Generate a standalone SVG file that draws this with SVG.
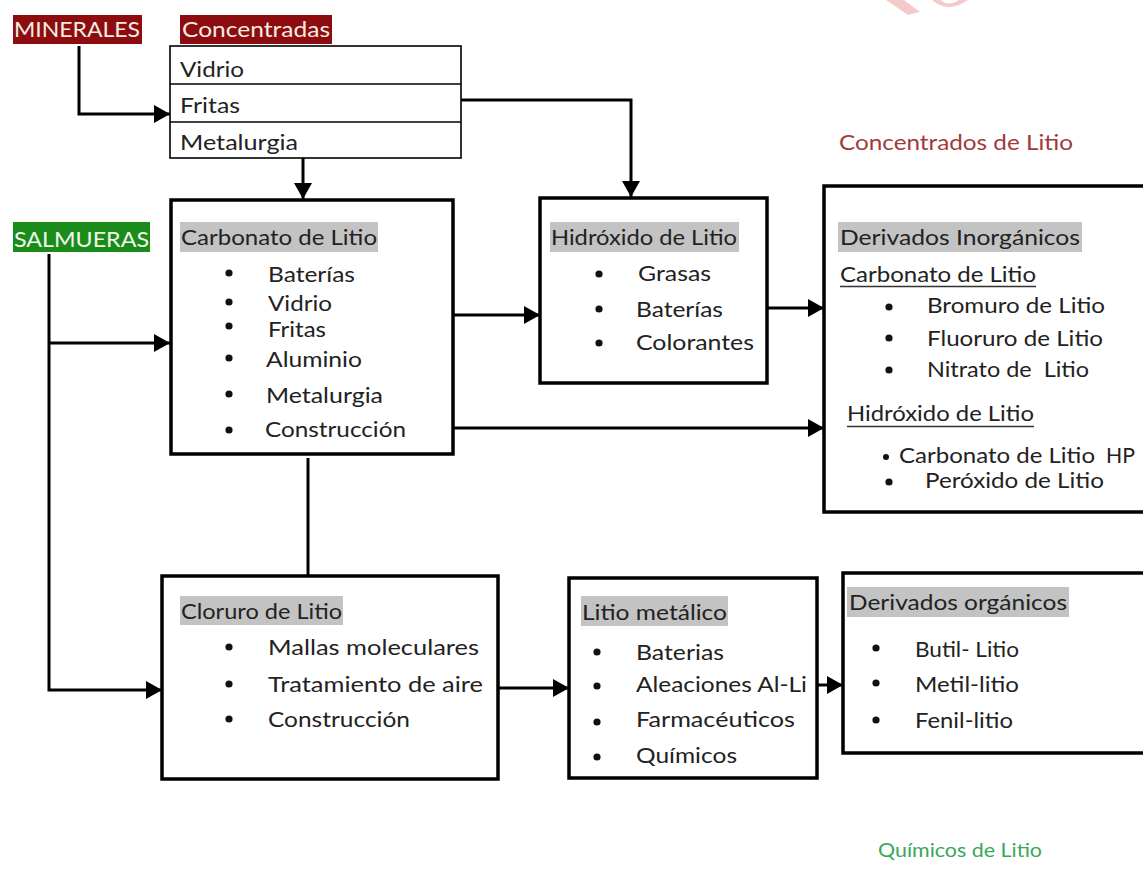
<svg xmlns="http://www.w3.org/2000/svg" width="1143" height="877" viewBox="0 0 1143 877">
<defs>
<marker id="arr" markerUnits="userSpaceOnUse" markerWidth="16" markerHeight="18" refX="16" refY="9" orient="auto"><path d="M0,0 L16,9 L0,18 z" fill="#000"/></marker>
<style>
.t{font-family:Lato,"Open Sans","Liberation Sans",sans-serif;font-size:21px;fill:#222}
.lbl{font-family:Lato,"Open Sans","Liberation Sans",sans-serif;font-size:21px;fill:#f5ede0}
.box{fill:#fff;stroke:#000;stroke-width:3.5}
.tbl{fill:#fff;stroke:#000;stroke-width:1.6}
.hdr{fill:#c3c3c3}
.con{fill:none;stroke:#000;stroke-width:3}
.ul{stroke:#333;stroke-width:1.5}
.b{fill:#111}
</style>
</defs>
<rect width="1143" height="877" fill="#fff"/>
<g id="watermark" fill="#f3c9c9">
<polygon points="886,0 904,0 920,12 908,15"/>
<path d="M932,0 Q948,14 968,0 L959,0 Q948,7 941,0 z"/>
</g>
<g id="connectors">
<path class="con" d="M79,46 V114 H170" marker-end="url(#arr)"/>
<path class="con" d="M303,158 V199" marker-end="url(#arr)"/>
<path class="con" d="M461,100 H631 V197" marker-end="url(#arr)"/>
<path class="con" d="M49,254 V690 H162" marker-end="url(#arr)"/>
<path class="con" d="M49,343 H170" marker-end="url(#arr)"/>
<path class="con" d="M453,315 H540" marker-end="url(#arr)"/>
<path class="con" d="M453,428 H824" marker-end="url(#arr)"/>
<path class="con" d="M308,458 V576"/>
<path class="con" d="M767,308 H824" marker-end="url(#arr)"/>
<path class="con" d="M498,688 H569" marker-end="url(#arr)"/>
<path class="con" d="M817,685 H843" marker-end="url(#arr)"/>
</g>
<g id="minerales">
<rect x="13" y="15" width="129" height="29" fill="#8c0c10"/>
<text class="lbl" x="14" y="37" textLength="126" lengthAdjust="spacingAndGlyphs">MINERALES</text>
</g>
<g id="concentradas">
<rect x="180" y="15" width="152" height="29" fill="#8c0c10"/>
<text class="lbl" x="182" y="37" textLength="148" lengthAdjust="spacingAndGlyphs">Concentradas</text>
<rect class="tbl" x="170" y="46" width="291" height="112"/>
<line class="tbl" x1="170" y1="84" x2="461" y2="84"/>
<line class="tbl" x1="170" y1="122" x2="461" y2="122"/>
<text class="t" x="180" y="77" textLength="64" lengthAdjust="spacingAndGlyphs">Vidrio</text>
<text class="t" x="180" y="113" textLength="60" lengthAdjust="spacingAndGlyphs">Fritas</text>
<text class="t" x="180" y="150" textLength="118" lengthAdjust="spacingAndGlyphs">Metalurgia</text>
</g>
<g id="concentrados-litio">
<text class="t" x="839" y="150" textLength="234" lengthAdjust="spacingAndGlyphs" style="fill:#a33a3a">Concentrados de Litio</text>
</g>
<g id="salmueras">
<rect x="13" y="222" width="137" height="30" fill="#198c19"/>
<text class="lbl" x="14" y="247" textLength="135" lengthAdjust="spacingAndGlyphs" style="fill:#f3f7ee">SALMUERAS</text>
</g>
<g id="carbonato">
<rect class="box" x="171" y="200" width="282" height="254"/>
<rect class="hdr" x="180" y="222" width="198" height="30"/>
<text class="t" x="181" y="245" textLength="196" lengthAdjust="spacingAndGlyphs">Carbonato de Litio</text>
<circle class="b" cx="229" cy="273" r="3.6"/><text class="t" x="268" y="282" textLength="87" lengthAdjust="spacingAndGlyphs">Baterías</text>
<circle class="b" cx="229" cy="302" r="3.6"/><text class="t" x="268" y="311" textLength="64" lengthAdjust="spacingAndGlyphs">Vidrio</text>
<circle class="b" cx="229" cy="326" r="3.6"/><text class="t" x="268" y="337" textLength="58" lengthAdjust="spacingAndGlyphs">Fritas</text>
<circle class="b" cx="229" cy="358" r="3.6"/><text class="t" x="266" y="367" textLength="96" lengthAdjust="spacingAndGlyphs">Aluminio</text>
<circle class="b" cx="229" cy="394" r="3.6"/><text class="t" x="266" y="403" textLength="117" lengthAdjust="spacingAndGlyphs">Metalurgia</text>
<circle class="b" cx="229" cy="430" r="3.6"/><text class="t" x="265" y="437" textLength="141" lengthAdjust="spacingAndGlyphs">Construcción</text>
</g>
<g id="hidroxido">
<rect class="box" x="540" y="198" width="227" height="185"/>
<rect class="hdr" x="550" y="222" width="189" height="30"/>
<text class="t" x="551" y="245" textLength="186" lengthAdjust="spacingAndGlyphs">Hidróxido de Litio</text>
<circle class="b" cx="599" cy="274" r="3.6"/><text class="t" x="638" y="281" textLength="73" lengthAdjust="spacingAndGlyphs">Grasas</text>
<circle class="b" cx="599" cy="309" r="3.6"/><text class="t" x="636" y="317" textLength="87" lengthAdjust="spacingAndGlyphs">Baterías</text>
<circle class="b" cx="599" cy="343" r="3.6"/><text class="t" x="636" y="350" textLength="118" lengthAdjust="spacingAndGlyphs">Colorantes</text>
</g>
<g id="inorganicos">
<rect class="box" x="824" y="186" width="340" height="326"/>
<rect class="hdr" x="838" y="222" width="244" height="30"/>
<text class="t" x="840" y="245" textLength="240" lengthAdjust="spacingAndGlyphs">Derivados Inorgánicos</text>
<text class="t" x="840" y="282" textLength="196" lengthAdjust="spacingAndGlyphs">Carbonato de Litio</text>
<line class="ul" x1="840" y1="286.5" x2="1036" y2="286.5"/>
<circle class="b" cx="889" cy="307" r="3.6"/><text class="t" x="927" y="313" textLength="178" lengthAdjust="spacingAndGlyphs">Bromuro de Litio</text>
<circle class="b" cx="889" cy="338" r="3.6"/><text class="t" x="927" y="346" textLength="176" lengthAdjust="spacingAndGlyphs">Fluoruro de Litio</text>
<circle class="b" cx="889" cy="370" r="3.6"/><text class="t" x="927" y="377" textLength="162" lengthAdjust="spacingAndGlyphs" style="white-space:pre">Nitrato de  Litio</text>
<text class="t" x="847" y="421" textLength="187" lengthAdjust="spacingAndGlyphs">Hidróxido de Litio</text>
<line class="ul" x1="847" y1="426.5" x2="1034" y2="426.5"/>
<circle class="b" cx="886" cy="457" r="3"/><text class="t" x="899" y="463" textLength="196" lengthAdjust="spacingAndGlyphs">Carbonato de Litio</text>
<text class="t" x="1106" y="463" textLength="29" lengthAdjust="spacingAndGlyphs">HP</text>
<circle class="b" cx="889" cy="482" r="3.6"/><text class="t" x="925" y="488" textLength="179" lengthAdjust="spacingAndGlyphs">Peróxido de Litio</text>
</g>
<g id="cloruro">
<rect class="box" x="162" y="576" width="336" height="203"/>
<rect class="hdr" x="180" y="596" width="163" height="29"/>
<text class="t" x="181" y="619" textLength="161" lengthAdjust="spacingAndGlyphs">Cloruro de Litio</text>
<circle class="b" cx="229" cy="647" r="3.6"/><text class="t" x="268" y="655" textLength="211" lengthAdjust="spacingAndGlyphs">Mallas moleculares</text>
<circle class="b" cx="229" cy="684" r="3.6"/><text class="t" x="268" y="692" textLength="215" lengthAdjust="spacingAndGlyphs">Tratamiento de aire</text>
<circle class="b" cx="229" cy="719" r="3.6"/><text class="t" x="268" y="727" textLength="142" lengthAdjust="spacingAndGlyphs">Construcción</text>
</g>
<g id="litio-metalico">
<rect class="box" x="569" y="578" width="248" height="200"/>
<rect class="hdr" x="581" y="596" width="147" height="30"/>
<text class="t" x="582" y="620" textLength="145" lengthAdjust="spacingAndGlyphs">Litio metálico</text>
<circle class="b" cx="597" cy="652" r="3.6"/><text class="t" x="636" y="660" textLength="88" lengthAdjust="spacingAndGlyphs">Baterias</text>
<circle class="b" cx="597" cy="686" r="3.6"/><text class="t" x="636" y="692" textLength="171" lengthAdjust="spacingAndGlyphs">Aleaciones Al-Li</text>
<circle class="b" cx="597" cy="722" r="3.6"/><text class="t" x="636" y="727" textLength="159" lengthAdjust="spacingAndGlyphs">Farmacéuticos</text>
<circle class="b" cx="597" cy="757" r="3.6"/><text class="t" x="636" y="763" textLength="101" lengthAdjust="spacingAndGlyphs">Químicos</text>
</g>
<g id="organicos">
<rect class="box" x="843" y="573" width="320" height="180"/>
<rect class="hdr" x="847" y="587" width="222" height="30"/>
<text class="t" x="849" y="610" textLength="218" lengthAdjust="spacingAndGlyphs">Derivados orgánicos</text>
<circle class="b" cx="876" cy="648" r="3.6"/><text class="t" x="915" y="657" textLength="104" lengthAdjust="spacingAndGlyphs">Butil- Litio</text>
<circle class="b" cx="876" cy="683" r="3.6"/><text class="t" x="915" y="692" textLength="104" lengthAdjust="spacingAndGlyphs">Metil-litio</text>
<circle class="b" cx="876" cy="720" r="3.6"/><text class="t" x="915" y="728" textLength="98" lengthAdjust="spacingAndGlyphs">Fenil-litio</text>
</g>
<g id="quimicos-litio">
<text class="t" x="878" y="857" textLength="164" lengthAdjust="spacingAndGlyphs" style="fill:#3aa65a;font-size:20px">Químicos de Litio</text>
</g>
</svg>
